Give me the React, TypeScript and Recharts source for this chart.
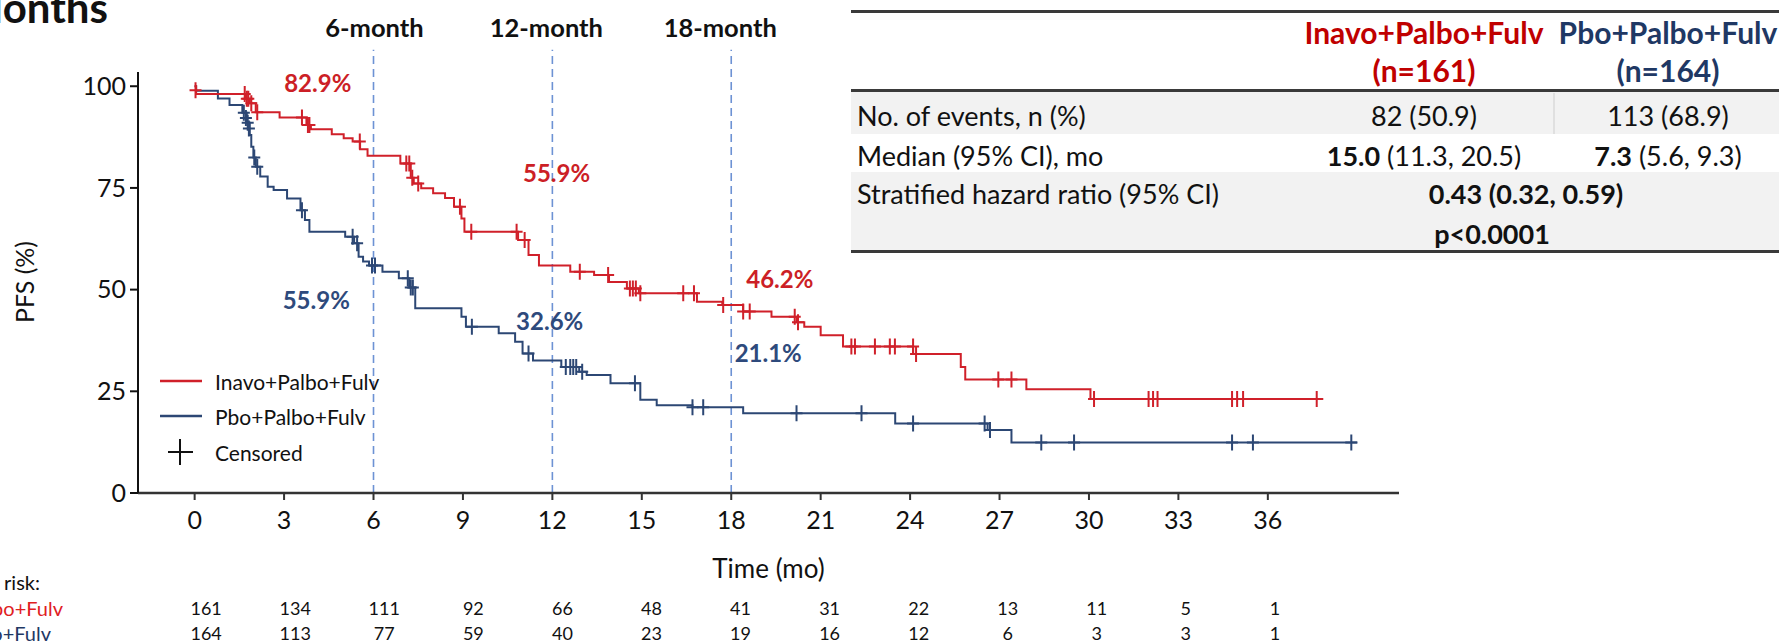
import React from 'react';
import { ComposedChart, Line, Scatter, XAxis, YAxis, ReferenceLine, ReferenceDot } from 'recharts';

const W = 1779;
const H = 642;
const RED = '#d0202a';
const BLUE = '#2c4774';
const HEAD_RED = '#c00000';
const HEAD_BLUE = '#1f3864';
const INK = '#111';
const FONT = 'Lato, "Open Sans", sans-serif';

// Kaplan-Meier steps, [month, PFS %] (value holds from that month on)
const inavoSteps = [
  [0, 100], [0.05, 98.1], [1.7, 96.9], [1.85, 95.8], [2.05, 93.6], [2.85, 92.3], [3.75, 90.5],
  [3.9, 89.4], [4.6, 88.2], [5.0, 87.2], [5.3, 86.4], [5.55, 84.5], [5.8, 82.9], [6.9, 81.0],
  [7.25, 77.5], [7.35, 76.1], [7.6, 74.9], [8.0, 73.7], [8.4, 72.5], [8.7, 70.4], [8.95, 67.5],
  [9.05, 64.2], [10.85, 62.2], [11.2, 58.5], [11.55, 55.9], [12.6, 54.4], [13.4, 53.6],
  [13.9, 51.9], [14.5, 50.3], [14.9, 49.1], [16.85, 47.0], [17.7, 46.2], [18.4, 44.6],
  [19.35, 43.3], [20.2, 42.0], [20.45, 40.9], [21.0, 38.8], [21.75, 36.0], [24.1, 34.2],
  [25.7, 31.0], [25.85, 27.9], [27.9, 25.5], [30.05, 23.1], [37.86, 23.1],
];

const pboSteps = [
  [0, 100], [0.05, 98.9], [0.78, 97.0], [1.17, 95.4], [1.6, 93.5], [1.75, 91.0], [1.85, 88.0],
  [1.9, 85.1], [1.97, 82.5], [2.05, 80.2], [2.2, 77.8], [2.45, 75.3], [2.65, 74.5], [3.1, 72.4],
  [3.55, 69.5], [3.7, 67.1], [3.85, 64.2], [5.05, 63.0], [5.35, 61.4], [5.5, 58.1], [5.65, 56.9],
  [5.85, 55.9], [6.3, 54.4], [6.85, 52.8], [7.2, 50.5], [7.4, 45.4], [8.95, 43.3], [9.1, 40.9],
  [10.2, 39.3], [10.75, 37.2], [11.0, 34.3], [11.35, 32.6], [12.3, 31.0], [12.9, 29.8],
  [13.15, 29.0], [13.95, 27.0], [14.95, 22.9], [15.5, 21.6], [16.7, 21.1], [18.4, 19.6],
  [23.5, 17.1], [26.6, 15.5], [27.4, 12.4], [39.0, 12.4],
];

// censored observations, [month, PFS %]
const inavoCensored = [
  [0.03, 99.0], [1.68, 98.1], [1.75, 96.9], [1.8, 96.9], [1.9, 95.8], [2.1, 93.6], [3.6, 92.3],
  [3.8, 90.5], [3.85, 90.5], [5.54, 86.4], [7.1, 81.0], [7.2, 81.0], [7.3, 77.5], [7.5, 76.1],
  [8.9, 70.4], [9.28, 64.2], [10.8, 64.2], [11.07, 62.2], [12.92, 54.4], [13.87, 53.6],
  [14.6, 50.3], [14.7, 50.3], [14.8, 50.3], [14.95, 49.1], [16.39, 49.1], [16.75, 49.1],
  [17.73, 46.2], [18.4, 44.6], [18.62, 44.6], [20.13, 43.3], [20.24, 42.0], [22.03, 36.0],
  [22.15, 36.0], [22.82, 36.0], [23.32, 36.0], [23.49, 36.0], [24.1, 36.0], [24.2, 34.2],
  [26.96, 27.9], [27.4, 27.9], [30.17, 23.1], [32.0, 23.1], [32.15, 23.1], [32.3, 23.1],
  [34.8, 23.1], [34.97, 23.1], [35.17, 23.1], [37.64, 23.1],
];

const pboCensored = [
  [1.65, 93.5], [1.72, 92.2], [1.78, 91.0], [1.82, 89.6], [2.0, 82.5], [2.1, 80.2], [3.6, 69.5],
  [5.3, 63.0], [5.45, 61.4], [5.95, 55.9], [6.05, 55.9], [7.15, 52.8], [7.25, 50.5],
  [7.32, 50.5], [9.3, 40.9], [11.2, 34.3], [12.45, 31.0], [12.6, 31.0], [12.7, 31.0],
  [12.8, 31.0], [13.0, 29.8], [14.77, 27.0], [16.7, 21.1], [17.06, 21.1], [20.19, 19.6],
  [22.37, 19.6], [24.1, 17.1], [26.5, 17.1], [26.68, 15.5], [28.4, 12.4], [29.5, 12.4],
  [34.8, 12.4], [35.5, 12.4], [38.8, 12.4],
];

const timeTicks = [0, 3, 6, 9, 12, 15, 18, 21, 24, 27, 30, 33, 36];
const pfsTicks = [0, 25, 50, 75, 100];
const riskInavo = [161, 134, 111, 92, 66, 48, 41, 31, 22, 13, 11, 5, 1];
const riskPbo = [164, 113, 77, 59, 40, 23, 19, 16, 12, 6, 3, 3, 1];

const landmarkMonths = [6, 12, 18];
const landmarkInavo = [82.9, 55.9, 46.2];
const landmarkPbo = [55.9, 32.6, 21.1];
// where each landmark caption sits, [month, PFS %]
const inavoLabelAt = [[4.13, 100.8], [12.14, 78.6], [19.63, 52.4]];
const pboLabelAt = [[4.08, 47.4], [11.91, 42.1], [19.24, 34.3]];
const landmarkDx = [1, -6, -11];

// summary table
const arms = ['Inavo+Palbo+Fulv', 'Pbo+Palbo+Fulv'];
const armN = [161, 164];
const events = [82, 113];
const eventsPct = [50.9, 68.9];
const medianMo = [15.0, 7.3];
const medianLo = [11.3, 5.6];
const medianHi = [20.5, 9.3];
const hazard = [0.43, 0.32, 0.59];
const pText = 'p<0.0001';

const toPoints = (rows) => rows.map(([t, s]) => ({ t, s }));

const plus = (color, w, h) => (props) => {
  const { cx, cy } = props;
  if (cx == null || cy == null) return null;
  return (
    <path
      d={`M${cx - w},${cy}H${cx + w}M${cx},${cy - h}V${cy + h}`}
      stroke={color}
      strokeWidth={2}
      fill="none"
    />
  );
};

function TimeTick(props) {
  const { x, payload } = props;
  const i = timeTicks.indexOf(payload.value);
  const rx = x + 11.5 - i * 0.37;
  const common = { textAnchor: 'middle', dominantBaseline: 'central', fontFamily: FONT, fill: INK };
  return (
    <g>
      <text x={x} y={519} fontSize={25} {...common}>{payload.value}</text>
      <text x={rx} y={608} fontSize={18} {...common}>{riskInavo[i]}</text>
      <text x={rx} y={633} fontSize={18} {...common}>{riskPbo[i]}</text>
    </g>
  );
}

function SummaryTable() {
  const left = 851;
  const right = W;
  const cols = [1424, 1668];
  const labelX = 857;
  const txt = { fontFamily: FONT, fontSize: 27, fill: INK, dominantBaseline: 'central' };
  return (
    <g>
      <rect x={left} y={92} width={right - left} height={42} fill="#f2f2f2" />
      <rect x={left} y={172} width={right - left} height={79} fill="#f2f2f2" />
      <line x1={1554} y1={93} x2={1554} y2={134} stroke="#dadada" strokeWidth={1.5} />
      <rect x={left} y={10} width={right - left} height={3} fill="#3a3a3a" />
      <rect x={left} y={89} width={right - left} height={3} fill="#3a3a3a" />
      <rect x={left} y={250} width={right - left} height={3} fill="#3a3a3a" />

      {arms.map((name, i) => (
        <g key={name}>
          <text x={cols[i]} y={32} textAnchor="middle" {...txt} fontSize={30} fontWeight={700}
            fill={i === 0 ? HEAD_RED : HEAD_BLUE}>{name}</text>
          <text x={cols[i]} y={70} textAnchor="middle" {...txt} fontSize={30} fontWeight={700}
            fill={i === 0 ? HEAD_RED : HEAD_BLUE}>{`(n=${armN[i]})`}</text>
          <text x={cols[i]} y={115} textAnchor="middle" {...txt}>
            {`${events[i]} (${eventsPct[i].toFixed(1)})`}
          </text>
          <text x={cols[i]} y={155} textAnchor="middle" {...txt}>
            <tspan fontWeight={700}>{medianMo[i].toFixed(1)}</tspan>
            {` (${medianLo[i].toFixed(1)}, ${medianHi[i].toFixed(1)})`}
          </text>
        </g>
      ))}

      <text x={labelX} y={115} {...txt}>No. of events, n (%)</text>
      <text x={labelX} y={155} {...txt}>Median (95% CI), mo</text>
      <text x={labelX} y={193} {...txt}>Stratified hazard ratio (95% CI)</text>
      <text x={1526} y={193} textAnchor="middle" {...txt} fontWeight={700}>
        {`${hazard[0].toFixed(2)} (${hazard[1].toFixed(2)}, ${hazard[2].toFixed(2)})`}
      </text>
      <text x={1492} y={233} textAnchor="middle" {...txt} fontWeight={700}>{pText}</text>
    </g>
  );
}

function Overlay() {
  const txt = { fontFamily: FONT, fill: INK, dominantBaseline: 'central' };
  return (
    <svg width={W} height={H} style={{ position: 'absolute', left: 0, top: 0, pointerEvents: 'none' }}>
      <text x={108} y={23} textAnchor="end" fontFamily={FONT} fontSize={42} fontWeight={700} fill={INK}>
        Months
      </text>

      {/* legend */}
      <line x1={160} y1={381} x2={202} y2={381} stroke={RED} strokeWidth={2.5} />
      <line x1={160} y1={416} x2={202} y2={416} stroke={BLUE} strokeWidth={2.5} />
      <path d="M168,452H193M180,439V465" stroke={INK} strokeWidth={2} />
      <text x={215} y={381} fontSize={21} {...txt}>{arms[0]}</text>
      <text x={215} y={416} fontSize={21} {...txt}>{arms[1]}</text>
      <text x={215} y={452} fontSize={21} {...txt}>Censored</text>

      {/* number at risk row labels */}
      <text x={40} y={582} textAnchor="end" fontSize={20} {...txt}>Number at risk:</text>
      <text x={63} y={608} textAnchor="end" fontSize={20} {...txt} fill="#e0201f">{arms[0]}</text>
      <text x={51} y={633} textAnchor="end" fontSize={20} {...txt} fill={HEAD_BLUE}>{arms[1]}</text>

      <SummaryTable />
    </svg>
  );
}

export default function App() {
  return (
    <div style={{ position: 'relative', width: W, height: H, overflow: 'hidden', background: '#fff', fontFamily: FONT }}>
      <style>{'body{margin:0}'}</style>
      <ComposedChart width={W} height={H} margin={{ top: 72, right: 380, bottom: 0, left: 0 }}>
        <XAxis
          dataKey="t"
          type="number"
          domain={[-1.9, 40.4]}
          ticks={timeTicks}
          allowDataOverflow
          height={149}
          axisLine={{ stroke: '#333', strokeWidth: 2.5 }}
          tickLine={{ stroke: '#333', strokeWidth: 2 }}
          tickSize={7}
          tick={<TimeTick />}
          interval={0}
          label={({ viewBox }) => (
            <text x={viewBox.x + viewBox.width / 2} y={568} textAnchor="middle" dominantBaseline="central"
              fontFamily={FONT} fontSize={26} fill={INK}>Time (mo)</text>
          )}
        />
        <YAxis
          type="number"
          domain={[0, 103.5]}
          ticks={pfsTicks}
          width={138}
          axisLine={{ stroke: '#111', strokeWidth: 2 }}
          tickLine={{ stroke: '#111', strokeWidth: 2 }}
          tickSize={8}
          tickMargin={4}
          tick={{ fill: INK, fontSize: 25, fontFamily: FONT }}
          interval={0}
          label={() => (
            <text x={24} y={282} transform="rotate(-90, 24, 282)" textAnchor="middle" dominantBaseline="central"
              fontFamily={FONT} fontSize={25} fill={INK}>PFS (%)</text>
          )}
        />

        {landmarkMonths.map((m, i) => (
          <ReferenceLine
            key={m}
            segment={[{ x: m, y: 0 }, { x: m, y: 109 }]}
            ifOverflow="visible"
            stroke="#6d92d4"
            strokeWidth={1.6}
            strokeDasharray="8 5"
            label={({ viewBox }) => (
              <text x={viewBox.x + landmarkDx[i]} y={27} textAnchor="middle" dominantBaseline="central"
                fontFamily={FONT} fontSize={25.5} fontWeight={700} fill={INK}>{`${m}-month`}</text>
            )}
          />
        ))}

        <Line data={toPoints(pboSteps)} dataKey="s" type="stepAfter" stroke={BLUE} strokeWidth={2}
          dot={false} activeDot={false} isAnimationActive={false} />
        <Line data={toPoints(inavoSteps)} dataKey="s" type="stepAfter" stroke={RED} strokeWidth={2}
          dot={false} activeDot={false} isAnimationActive={false} />
        <Scatter data={toPoints(pboCensored)} dataKey="s" shape={plus(BLUE, 6, 8)} isAnimationActive={false} />
        <Scatter data={toPoints(inavoCensored)} dataKey="s" shape={plus(RED, 6, 8)} isAnimationActive={false} />

        {landmarkInavo.map((v, i) => (
          <ReferenceDot key={`a${i}`} x={inavoLabelAt[i][0]} y={inavoLabelAt[i][1]} r={0} fill="none" stroke="none"
            ifOverflow="visible"
            label={{ value: `${v.toFixed(1)}%`, position: 'center', fill: '#cc1f26', fontSize: 24, fontWeight: 700, fontFamily: FONT }} />
        ))}
        {landmarkPbo.map((v, i) => (
          <ReferenceDot key={`b${i}`} x={pboLabelAt[i][0]} y={pboLabelAt[i][1]} r={0} fill="none" stroke="none"
            ifOverflow="visible"
            label={{ value: `${v.toFixed(1)}%`, position: 'center', fill: '#2e4a7c', fontSize: 24, fontWeight: 700, fontFamily: FONT }} />
        ))}
      </ComposedChart>
      <Overlay />
    </div>
  );
}
